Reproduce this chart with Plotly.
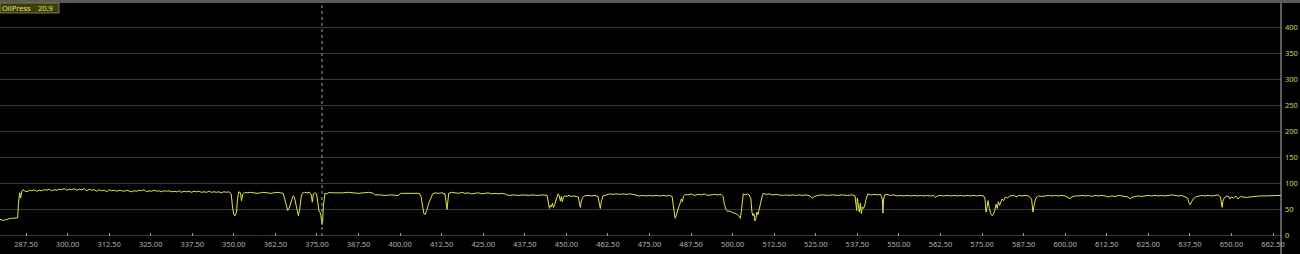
import plotly.graph_objects as go

# ---- data (time in s, oil pressure) ----
time_s = [
    279.7, 280.5, 281.3, 282.0, 282.8, 283.5, 284.3, 285.0, 285.2, 285.4, 285.6, 285.9, 286.2, 286.6,
    287.0, 287.8, 288.5, 289.2, 290.0, 290.7, 291.5, 292.2, 293.0, 293.8, 294.5, 295.2, 296.0, 296.8,
    297.5, 298.2, 299.0, 299.8, 300.5, 301.2, 302.0, 302.8, 303.5, 304.2, 305.0, 305.8, 306.5, 307.2,
    308.0, 308.8, 309.5, 310.2, 311.0, 311.8, 312.5, 313.2, 314.0, 314.8, 315.5, 316.2, 317.0, 317.8,
    318.5, 319.2, 320.0, 320.8, 321.5, 322.2, 323.0, 323.8, 324.5, 325.2, 326.0, 326.8, 327.5, 328.2,
    329.0, 329.8, 330.5, 331.2, 332.0, 332.8, 333.5, 334.2, 335.0, 335.8, 336.5, 337.2, 338.0, 338.8,
    339.5, 340.2, 341.0, 341.8, 342.5, 343.2, 344.0, 344.8, 345.5, 346.2, 347.0, 347.8, 348.5, 349.2,
    349.6, 350.0, 350.4, 350.8, 351.1, 351.5, 352.0, 352.3, 352.7, 353.2,
    354.0, 355.0, 356.0, 357.0, 358.0, 359.0, 360.0, 361.0, 362.0, 363.0, 364.0, 364.8, 365.3, 365.8,
    366.2, 366.6, 367.2, 367.8, 368.2, 368.6, 369.0, 369.4, 369.8, 370.2, 370.6, 371.2, 372.0, 372.8,
    373.3, 373.6, 373.9, 374.4, 374.9, 375.3, 375.6, 375.9, 376.2, 376.5, 376.7, 376.9, 377.1, 377.4,
    378.0, 378.6, 379.3,
    380.0, 381.5, 383.0, 384.5, 386.0, 387.5, 389.0, 390.5, 392.0, 392.5, 394.0, 395.5, 397.0, 398.5,
    399.5, 400.2, 401.5, 403.0, 404.5, 405.8, 406.3, 406.7, 407.1, 407.5, 408.0, 408.6, 409.2, 409.8,
    410.5, 411.5, 412.5, 413.5, 413.9, 414.1, 414.3, 414.6, 415.5, 416.5, 417.5, 418.5, 419.5, 420.5,
    421.5, 422.5, 423.5, 424.5, 425.5, 426.5, 427.5, 428.5, 429.5, 430.5, 431.5, 432.1, 433.0, 434.0,
    435.5, 437.0, 438.5, 440.0, 441.5, 443.0, 444.2, 444.6, 444.9, 445.2, 445.5, 445.8, 446.1, 446.5,
    447.0, 447.5, 447.9, 448.2, 448.5, 448.8, 449.1, 449.6, 450.2, 450.8, 451.5, 452.2, 453.0, 453.6,
    454.0, 454.2, 454.5, 454.9, 455.5, 456.5, 457.5, 458.5, 459.5, 459.9, 460.2, 460.5, 461.0, 462.0,
    463.0, 464.0, 465.0, 466.0, 467.0, 468.0, 469.0, 470.0, 471.0, 472.0,
    473.0, 474.0, 475.0, 476.0, 477.0, 478.0, 479.0, 480.0, 481.0, 481.8, 482.1, 482.4, 482.7, 483.0,
    483.4, 483.8, 484.2, 484.6, 484.9, 485.2, 485.7, 486.5, 487.5, 488.5, 489.5, 490.5, 491.5, 492.5,
    493.5, 494.5, 495.5, 496.5, 497.1, 497.5, 498.0, 498.5, 499.0, 499.5, 500.0, 500.5, 501.0, 501.5,
    502.0, 502.3, 502.6, 502.9, 503.2, 503.8, 504.4, 505.0, 505.5, 505.8, 506.1, 506.4, 506.7, 507.0,
    507.3, 507.6, 508.0, 508.4, 508.8, 509.2, 510.0, 511.0, 512.0, 513.0, 514.0, 515.0, 516.0, 517.0,
    518.0, 519.0, 520.0, 521.0, 522.0, 523.0, 524.0, 524.6, 525.5, 527.0, 528.5, 530.0, 531.5, 533.0,
    534.5, 536.0, 536.8, 537.1, 537.3, 537.5, 537.8, 538.1, 538.4, 538.7, 539.0, 539.4, 539.8, 540.2,
    540.7, 541.5, 542.5, 543.5, 544.5, 545.0, 545.2, 545.4, 545.7, 546.5, 547.5, 548.5, 549.5, 550.5,
    551.5, 552.5, 553.5, 554.5, 555.5, 556.5, 557.5, 558.5, 559.5, 560.5, 561.0, 561.5, 562.5, 563.5,
    564.5, 565.5, 566.5, 567.5, 568.5, 569.5, 570.5, 571.5, 572.5, 573.5, 574.5, 575.5, 575.9, 576.2,
    576.5, 576.8, 577.2, 577.6, 578.0, 578.4, 578.8, 579.2, 579.6, 579.9, 580.3, 580.7, 581.0, 581.5,
    582.0, 582.6, 583.4, 584.5, 585.5, 586.0, 587.0, 588.0, 589.0, 589.9, 590.3, 590.7, 591.2, 592.0,
    593.0, 594.0, 595.0, 596.0, 597.0, 598.0, 599.0, 600.0, 601.0, 601.4, 602.0, 603.0, 604.0, 605.0,
    606.0, 607.0, 608.0, 609.0, 610.0, 611.0, 612.0, 613.0, 614.0, 615.0, 616.0, 617.0, 618.0, 619.0,
    619.5, 620.0, 621.0, 622.0, 623.0, 624.0, 625.0, 626.0, 627.0, 628.0, 629.0, 630.0, 631.0, 632.0,
    633.0, 634.0, 635.0, 636.0, 636.8, 637.3, 637.6, 638.0, 638.5, 639.2, 640.0, 641.0, 642.0, 643.0,
    644.0, 645.0, 646.0, 646.7, 647.0, 647.2, 647.4, 647.8, 648.4, 649.0, 649.5, 650.0, 650.6, 651.3,
    652.0, 652.7, 653.5, 654.5, 655.5, 656.5, 657.5, 658.5, 659.5, 660.5, 661.5, 662.5, 663.5, 664.5,
    664.9,
]

oil_press = [
    31, 29, 30, 32, 33, 33, 34, 34, 60, 75, 82, 72, 85, 88,
    86, 84, 87, 86, 88, 85, 87, 86, 88, 87, 89, 86, 88, 87,
    89, 88, 90, 87, 89, 88, 90, 87, 89, 88, 90, 86, 89, 87,
    88, 85, 88, 86, 87, 84, 88, 86, 87, 85, 87, 86, 85, 87,
    86, 84, 86, 85, 87, 86, 88, 84, 86, 85, 87, 85, 86, 84,
    86, 85, 86, 84, 85, 84, 86, 83, 85, 84, 85, 83, 85, 84,
    85, 83, 84, 83, 85, 83, 84, 83, 84, 82, 84, 83, 84, 80,
    55, 40, 38, 45, 70, 84, 82, 67, 80, 83,
    82, 83, 82, 81, 82, 83, 82, 81, 82, 83, 82, 81, 70, 55,
    48, 52, 65, 76, 74, 60, 45, 38, 50, 72, 81, 83, 82, 83,
    78, 64, 80, 82, 80, 55, 47, 45, 38, 21, 25, 55, 70, 81,
    80, 83, 82,
    82, 81, 82, 83, 82, 81, 82, 83, 81, 78, 78, 77, 78, 78,
    77, 81, 81, 80, 81, 81, 75, 55, 43, 40, 48, 62, 72, 80,
    82, 81, 82, 80, 60, 50, 62, 81, 83, 82, 81, 83, 81, 82,
    80, 81, 82, 80, 81, 82, 80, 81, 80, 81, 80, 78, 77, 78,
    77, 78, 77, 78, 77, 78, 77, 65, 52, 58, 55, 62, 54, 60,
    72, 80, 76, 66, 75, 65, 74, 76, 75, 77, 75, 76, 75, 74,
    60, 54, 66, 73, 76, 77, 76, 77, 75, 62, 52, 65, 76, 78,
    80, 79, 80, 79, 80, 79, 80, 79, 78, 76,
    77, 76, 77, 76, 77, 76, 77, 76, 77, 75, 60, 45, 33, 38,
    48, 55, 62, 70, 65, 75, 79, 78, 80, 77, 79, 78, 80, 77,
    78, 79, 78, 79, 75, 60, 50, 46, 47, 45, 44, 43, 41, 40,
    36, 33, 45, 72, 80, 78, 80, 78, 70, 45, 38, 42, 28, 33,
    45, 40, 55, 62, 74, 81, 79, 80, 78, 79, 78, 77, 78, 77,
    78, 77, 78, 77, 78, 77, 72, 75, 77, 78, 77, 78, 77, 78,
    77, 78, 76, 55, 48, 72, 60, 45, 62, 42, 55, 52, 60, 72,
    80, 78, 79, 78, 79, 70, 43, 70, 78, 79, 77, 78, 76, 77,
    76, 77, 76, 77, 76, 77, 76, 77, 76, 77, 73, 76, 77, 76,
    77, 76, 77, 76, 77, 76, 77, 76, 77, 76, 77, 76, 70, 45,
    55, 67, 52, 42, 38, 40, 48, 60, 52, 65, 58, 68, 70, 67,
    74, 72, 76, 77, 74, 77, 76, 77, 76, 70, 45, 60, 72, 76,
    75, 76, 77, 76, 77, 76, 77, 76, 73, 71, 74, 76, 76, 77,
    76, 77, 75, 77, 76, 77, 76, 74, 76, 75, 77, 76, 75, 74,
    70, 73, 75, 76, 75, 76, 77, 76, 77, 76, 77, 76, 77, 78,
    77, 76, 77, 75, 72, 62, 59, 65, 70, 74, 76, 77, 76, 77,
    76, 77, 78, 74, 60, 54, 65, 72, 75, 76, 70, 74, 72, 76,
    70, 75, 74, 73, 74, 75, 75, 76, 76, 76, 77, 77, 77, 76,
    77,
]

x_ticks = [287.5 + 12.5 * i for i in range(31)]
y_ticks = [0, 50, 100, 150, 200, 250, 300, 350, 400]
cursor_time = 376.5
cursor_label = "OilPress"
cursor_value = "20.9"

PLOT_W = 1281
PLOT_H = 233
FONT = "Noto Sans"

fig = go.Figure()
fig.add_trace(go.Scatter(
    x=time_s, y=oil_press, mode="lines",
    line=dict(color="#e6e648", width=1),
    hoverinfo="skip", showlegend=False,
))

fig.update_layout(
    width=1300, height=254,
    margin=dict(l=0, r=19, t=3, b=18),
    paper_bgcolor="#000000", plot_bgcolor="#000000",
    font=dict(family=FONT, size=7.5, color="#b4b4b4"),
    xaxis=dict(
        range=[279.68, 664.9], tickvals=x_ticks, tickformat=".2f",
        showgrid=False, zeroline=False, showline=False,
        ticks="inside", ticklen=3, tickcolor="#9a9a9a",
        tickfont=dict(family=FONT, size=7.5, color="#b0b0b0"),
        ticklabelstandoff=2,
    ),
    yaxis=dict(
        range=[-1, 447], tickvals=y_ticks, side="right",
        showgrid=True, gridcolor="#383838", gridwidth=1,
        zeroline=False, showline=False, ticks="",
        tickfont=dict(family=FONT, size=7.5, color="#d8d850"),
        ticklabelstandoff=3,
    ),
    shapes=[
        # top border band
        dict(type="rect", xref="paper", yref="paper", x0=0, x1=1300 / PLOT_W,
             y0=1, y1=1 + 3 / PLOT_H, fillcolor="#5a5a5a", line=dict(width=0), layer="above"),
        # zero grid line
        dict(type="line", xref="paper", yref="y", x0=0, x1=1, y0=0, y1=0,
             line=dict(color="#383838", width=1), layer="below"),
        # right border line
        dict(type="line", xref="paper", yref="paper", x0=1, x1=1,
             y0=-18 / PLOT_H, y1=1, line=dict(color="#b8b8b8", width=1)),
        # cursor
        dict(type="line", xref="x", yref="paper", x0=cursor_time, x1=cursor_time,
             y0=0, y1=1, line=dict(color="#a0a0a0", width=1, dash="dot")),
        # value box
        dict(type="rect", xref="paper", yref="paper", x0=0, x1=59 / PLOT_W,
             y0=1 - 10 / PLOT_H, y1=1, fillcolor="#3c3c0c",
             line=dict(color="#7c7c3a", width=1), layer="above"),
    ],
    annotations=[
        dict(xref="paper", yref="paper", x=1 / PLOT_W, y=1 - 5 / PLOT_H,
             xanchor="left", yanchor="middle", text=cursor_label, showarrow=False,
             borderpad=0,
             font=dict(family=FONT, size=7.5, color="#e2e27a")),
        dict(xref="paper", yref="paper", x=54 / PLOT_W, y=1 - 5 / PLOT_H,
             xanchor="right", yanchor="middle", text=cursor_value, showarrow=False,
             borderpad=0,
             font=dict(family=FONT, size=7.5, color="#e2e27a")),
    ],
)

fig.write_html("out.html")
